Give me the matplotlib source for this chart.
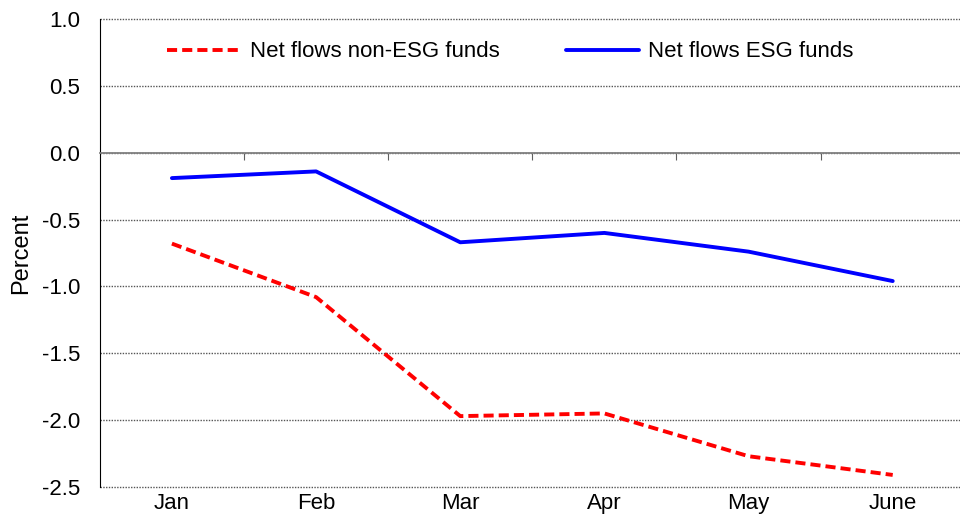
import matplotlib
matplotlib.use("Agg")
import matplotlib.pyplot as plt
import numpy as np

months = ["Jan", "Feb", "Mar", "Apr", "May", "June"]
non_esg = [-0.68, -1.08, -1.97, -1.95, -2.27, -2.41]
esg = [-0.19, -0.14, -0.67, -0.60, -0.74, -0.96]
yticks = [-2.5, -2.0, -1.5, -1.0, -0.5, 0.0, 0.5, 1.0]

plt.rcParams["font.family"] = ["Liberation Sans", "DejaVu Sans"]
FS = 16

fig = plt.figure(figsize=(9.6, 5.2), dpi=100)
ax = fig.add_axes([0.104, 0.0635, 0.901, 0.9])

x = np.arange(len(months))
ax.plot(x, non_esg, color="#ff0000", lw=2.8, dashes=(2.6, 1.3),
        dash_capstyle="butt", label="Net flows non-ESG funds")
ax.plot(x, esg, color="#0000ff", lw=2.8, solid_capstyle="round",
        label="Net flows ESG funds")

ax.set_xlim(-0.5, len(months) - 0.5)
ax.set_ylim(-2.5, 1.0)
ax.set_yticks(yticks)
ax.set_yticklabels([f"{v:.1f}" for v in yticks], fontsize=FS)
ax.tick_params(axis="y", length=0, pad=14)
ax.grid(axis="y", linestyle=(0, (1, 1)), color="#555555", lw=1.0)
for gl in ax.get_ygridlines():
    gl.set_clip_on(False)

# category axis sits at zero, labels at the bottom
ax.spines["bottom"].set_position(("data", 0))
ax.spines["bottom"].set_color("#808080")
ax.spines["bottom"].set_linewidth(1.3)
ax.spines["top"].set_visible(False)
ax.spines["right"].set_visible(False)
ax.spines["left"].set_color("black")
ax.set_xticks(np.arange(len(months) - 1) + 0.5)
ax.set_xticklabels([])
ax.tick_params(axis="x", direction="out", length=5, color="#606060")

sec = ax.secondary_xaxis(0)
sec.set_xticks(x)
sec.set_xticklabels(months, fontsize=FS)
sec.tick_params(length=0, pad=4)
sec.spines["bottom"].set_visible(False)

ax.set_ylabel("Percent", fontsize=17, labelpad=7)

ax.legend(loc="upper left", bbox_to_anchor=(0.055, 0.995), ncol=2, frameon=False,
          fontsize=FS, handlelength=3.3, columnspacing=3.0, handletextpad=0.4)

fig.savefig("out.png", dpi=100)
